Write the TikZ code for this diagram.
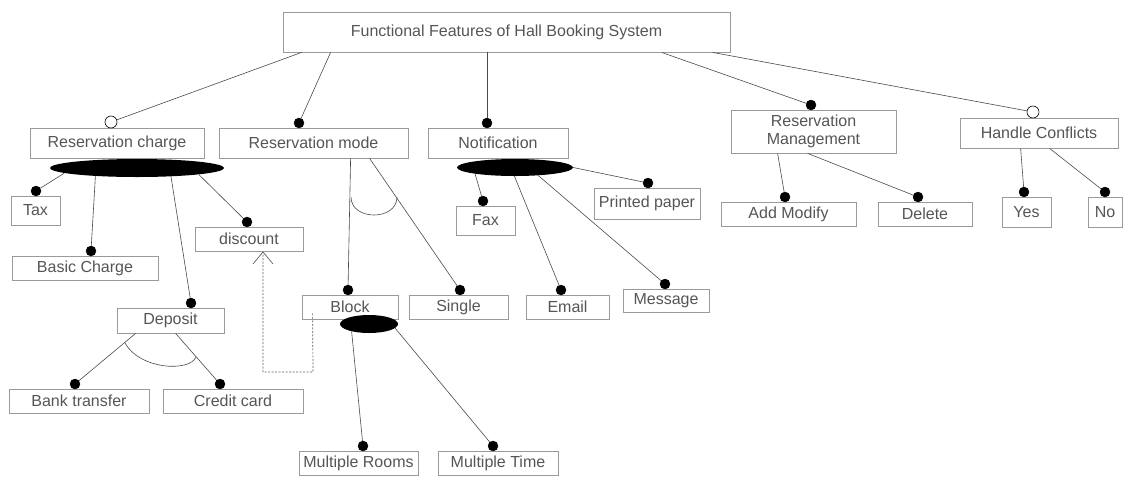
\documentclass[tikz,border=0pt]{standalone}
\usepackage{fontspec}
\setmainfont{Liberation Sans}
\usetikzlibrary{shapes.geometric,arrows.meta,calc}
\definecolor{boxline}{HTML}{9A9A9A}
\definecolor{labeltext}{HTML}{555555}
\definecolor{wire}{HTML}{4A4A4A}
\definecolor{reqline}{HTML}{5E5E5E}
\tikzset{
  feature/.style={draw=boxline, line width=0.8pt, inner sep=0pt, text=labeltext,
    font=\fontsize{16}{18}\selectfont, align=center},
  mand/.style={circle, fill=black, draw=black, minimum size=10pt, inner sep=0pt},
  opt/.style={circle, fill=white, draw=black, line width=0.6pt, minimum size=12pt, inner sep=0pt},
  orgroup/.style={ellipse, fill=black, inner sep=0pt},
  link/.style={draw=wire, line width=0.6pt},
  altarc/.style={draw=wire, line width=0.6pt},
  requires/.style={draw=reqline, dash pattern=on 2pt off 1.5pt, line width=0.7pt,
    -{Straight Barb[length=12pt,width=20pt]}}
}
\begin{document}
\begin{tikzpicture}[x=1pt,y=-1pt]
\useasboundingbox (0,0) rectangle (1123,480);

% ---------- feature boxes ----------
\node[feature, minimum width=447pt, minimum height=40pt] (root) at (506.5,32) {Functional Features of Hall Booking System};

\node[feature, minimum width=174pt, minimum height=30pt] (rc) at (117,143) {Reservation charge};
\node[feature, minimum width=189pt, minimum height=30pt] (rm) at (313.5,143) {Reservation mode};
\node[feature, minimum width=140pt, minimum height=30pt] (nt) at (498,143) {Notification};
\node[feature, minimum width=165pt, minimum height=43pt] (mg) at (813.5,131.5) {Reservation\\Management};
\node[feature, minimum width=158pt, minimum height=30pt] (hc) at (1039,133) {Handle Conflicts};

\node[feature, minimum width=49pt, minimum height=29pt] (tax) at (35.5,210.5) {Tax};
\node[feature, minimum width=146pt, minimum height=24pt] (basic) at (85,268) {Basic Charge};
\node[feature, minimum width=108pt, minimum height=24pt] (disc) at (249,239) {discount};
\node[feature, minimum width=107pt, minimum height=25pt] (dep) at (170.5,320.5) {Deposit};
\node[feature, minimum width=140pt, minimum height=24pt] (bank) at (79,401) {Bank transfer};
\node[feature, minimum width=140pt, minimum height=24pt] (cc) at (233,401) {Credit card};

\node[feature, minimum width=96pt, minimum height=24pt] (block) at (350,307) {Block};
\node[feature, minimum width=99pt, minimum height=24pt] (single) at (458.5,307) {Single};
\node[feature, minimum width=119pt, minimum height=24pt] (mr) at (358.5,463) {Multiple Rooms};
\node[feature, minimum width=120pt, minimum height=24pt] (mt) at (498,463) {Multiple Time};

\node[feature, minimum width=59pt, minimum height=29pt] (fax) at (485.5,220.5) {Fax};
\node[feature, minimum width=83pt, minimum height=24pt] (email) at (567.5,307) {Email};
\node[feature, minimum width=106pt, minimum height=31pt] (pp) at (647,203.5) {Printed paper};
\node[feature, minimum width=86pt, minimum height=23pt] (msg) at (666,300.5) {Message};

\node[feature, minimum width=135pt, minimum height=24pt] (am) at (788.5,214) {Add Modify};
\node[feature, minimum width=94pt, minimum height=24pt] (del) at (925,214) {Delete};
\node[feature, minimum width=49pt, minimum height=30pt] (yes) at (1026.5,212) {Yes};
\node[feature, minimum width=34pt, minimum height=30pt] (no) at (1105,212) {No};

% ---------- or-group ellipses ----------
\node[orgroup, minimum width=174pt, minimum height=18pt] (erc) at (137,168) {};
\node[orgroup, minimum width=116pt, minimum height=17pt] (ent) at (515,167.5) {};
\node[orgroup, minimum width=58pt, minimum height=18pt] (eblock) at (369,324) {};

% ---------- mandatory / optional markers ----------
\node[opt] (orc) at (111,122) {};
\node[opt] (ohc) at (1033,112) {};
\node[mand] (drm) at (299,123) {};
\node[mand] (dnt) at (487,123) {};
\node[mand] (dmg) at (811,105) {};

\node[mand] (dtax) at (36,191) {};
\node[mand] (dbasic) at (91,251) {};
\node[mand] (ddisc) at (247,222) {};
\node[mand] (ddep) at (191,303) {};
\node[mand] (dbank) at (75,384) {};
\node[mand] (dcc) at (220,384) {};

\node[mand] (dblock) at (348,290) {};
\node[mand] (dsingle) at (460,290) {};
\node[mand] (dmr) at (363,446) {};
\node[mand] (dmt) at (493,446) {};

\node[mand] (dfax) at (483,201) {};
\node[mand] (demail) at (561,290) {};
\node[mand] (dpp) at (648,183) {};
\node[mand] (dmsg) at (665,284) {};

\node[mand] (dam) at (785,197) {};
\node[mand] (ddel) at (918,197) {};
\node[mand] (dyes) at (1024,192) {};
\node[mand] (dno) at (1105,192) {};

% ---------- connectors ----------
% root to first level
\draw[link] ([xshift=19pt]root.south west) -- (orc);
\draw[link] ([xshift=48pt]root.south west) -- (drm);
\draw[link] (root.south -| dnt) -- (dnt);
\draw[link] ([xshift=379pt]root.south west) -- (dmg);
\draw[link] ([xshift=430pt]root.south west) -- (ohc);

% reservation charge group
\draw[link] (erc.184.6) -- (dtax);
\draw[link] (erc.191.3) -- (dbasic);
\draw[link] (erc.346.4) -- (ddep);
\draw[link] (erc.354.9) -- (ddisc);

% deposit alternatives
\draw[link] ([xshift=19pt]dep.south west) -- (dbank);
\draw[link] ([xshift=59pt]dep.south west) -- (dcc);
\draw[altarc] (125,343) .. controls (140,370) and (190,372) .. (196,357);

% reservation mode alternatives
\draw[link] ([xshift=132pt]rm.south west) -- (dblock);
\draw[link] ([xshift=151pt]rm.south west) -- (dsingle);
\draw[altarc] (351,197) .. controls (351,221) and (397,221) .. (397,197);

% block group
\draw[link] (eblock.203.2) -- (dmr);
\draw[link] (eblock.351.3) -- (dmt);

% notification group
\draw[link] (ent.189.6) -- (dfax);
\draw[link] (ent.266) -- (demail);
\draw[link] (ent.341.3) -- (dmsg);
\draw[link] (ent.east) -- (dpp);

% reservation management
\draw[link] ([xshift=47pt]mg.south west) -- (dam);
\draw[link] ([xshift=77pt]mg.south west) -- (ddel);

% handle conflicts
\draw[link] ([xshift=61pt]hc.south west) -- (dyes);
\draw[link] ([xshift=90pt]hc.south west) -- (dno);

% requires dependency: block -> discount
\coordinate (bendA) at (313,372);
\coordinate (bendB) at (263,372);
\draw[requires] ([xshift=11pt,yshift=6pt]block.south west) -- (bendA) -- (bendB) -- (disc.south -| bendB);
\end{tikzpicture}
\end{document}
